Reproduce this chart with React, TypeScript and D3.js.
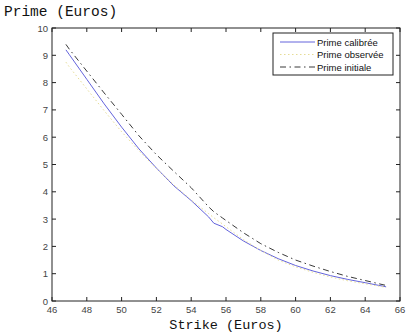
import React from 'react';
import * as d3 from 'd3';

// strike values (Euros) and premiums
const strikes = [46.8, 47, 48, 49, 50, 51, 52, 53, 54, 55, 55.3, 55.8, 56, 57, 58, 59, 60, 61, 62, 63, 64, 65.2];
const primeCalibree = [9.2, 9.02, 8.12, 7.22, 6.37, 5.57, 4.87, 4.22, 3.68, 3.08, 2.85, 2.72, 2.62, 2.2, 1.85, 1.55, 1.3, 1.1, 0.93, 0.79, 0.67, 0.52];
const primeObservee = [8.75, 8.57, 7.77, 6.97, 6.2, 5.5, 4.85, 4.25, 3.7, 3.2, 3.05, 2.82, 2.72, 2.25, 1.85, 1.5, 1.25, 1.05, 0.88, 0.74, 0.63, 0.5];
const primeInitiale = [9.4, 9.22, 8.42, 7.62, 6.84, 6.05, 5.36, 4.75, 4.15, 3.45, 3.27, 3.04, 2.95, 2.5, 2.1, 1.78, 1.5, 1.28, 1.08, 0.9, 0.75, 0.57];

const xTicks = [46, 48, 50, 52, 54, 56, 58, 60, 62, 64, 66];
const yTicks = [0, 1, 2, 3, 4, 5, 6, 7, 8, 9, 10];

const seriesNames = ['Prime calibrée', 'Prime observée', 'Prime initiale'];

const W = 407;
const H = 333;
const left = 52, right = 400, top = 28, bottom = 301;

export default function App() {
  const x = d3.scaleLinear().domain([46, 66]).range([left, right]);
  const y = d3.scaleLinear().domain([0, 10]).range([bottom, top]);

  const line = d3.line<number>()
    .x((_, i) => x(strikes[i]))
    .y(d => y(d));

  const series = [
    { name: seriesNames[0], values: primeCalibree, color: '#6464dc', dash: null },
    { name: seriesNames[1], values: primeObservee, color: '#e6dc96', dash: '1.5,2.5' },
    { name: seriesNames[2], values: primeInitiale, color: '#3a3a3a', dash: '6,3.5,1.5,3.5' },
  ];

  const tickLen = 4;
  const axisColor = '#222';
  const tickFont = 'Liberation Sans, Arial, sans-serif';
  const labelFont = 'Liberation Mono, Courier New, monospace';

  // legend
  const lgX = 273, lgY = 33, lgW = 120, lgH = 42;

  return (
    <svg width={W} height={H} style={{ position: 'absolute', left: 0, top: 0 }}>
      <rect x={0} y={0} width={W} height={H} fill="#fff" />
      <text x={4} y={16} fontFamily={labelFont} fontSize={14.5} fill="#111">Prime (Euros)</text>
      <text x={226} y={329} fontFamily={labelFont} fontSize={13.5} fill="#111" textAnchor="middle">Strike (Euros)</text>

      {series.map(s => (
        <path key={s.name} d={line(s.values) || ''} fill="none" stroke={s.color}
          strokeWidth={1} strokeDasharray={s.dash || undefined} />
      ))}

      <rect x={left} y={top} width={right - left} height={bottom - top} fill="none" stroke={axisColor} strokeWidth={1} />

      {xTicks.map(t => (
        <g key={'x' + t}>
          <line x1={x(t)} x2={x(t)} y1={bottom} y2={bottom - tickLen} stroke={axisColor} />
          <line x1={x(t)} x2={x(t)} y1={top} y2={top + tickLen} stroke={axisColor} />
          <text x={x(t)} y={313} textAnchor="middle" fontFamily={tickFont} fontSize={9.5} fill="#444">{t}</text>
        </g>
      ))}
      {yTicks.map(t => (
        <g key={'y' + t}>
          <line x1={left} x2={left + tickLen} y1={y(t)} y2={y(t)} stroke={axisColor} />
          <line x1={right} x2={right - tickLen} y1={y(t)} y2={y(t)} stroke={axisColor} />
          <text x={left - 4} y={y(t) + 3.5} textAnchor="end" fontFamily={tickFont} fontSize={9.5} fill="#444">{t}</text>
        </g>
      ))}

      <rect x={lgX} y={lgY} width={lgW} height={lgH} fill="#fff" stroke={axisColor} />
      {series.map((s, i) => (
        <g key={'lg' + s.name}>
          <line x1={lgX + 7} x2={lgX + 42} y1={lgY + 9 + i * 12.5} y2={lgY + 9 + i * 12.5}
            stroke={s.color} strokeDasharray={s.dash || undefined} />
          <text x={lgX + 44} y={lgY + 12.5 + i * 12.5} fontFamily={tickFont} fontSize={9.5} fill="#111">{s.name}</text>
        </g>
      ))}
    </svg>
  );
}
